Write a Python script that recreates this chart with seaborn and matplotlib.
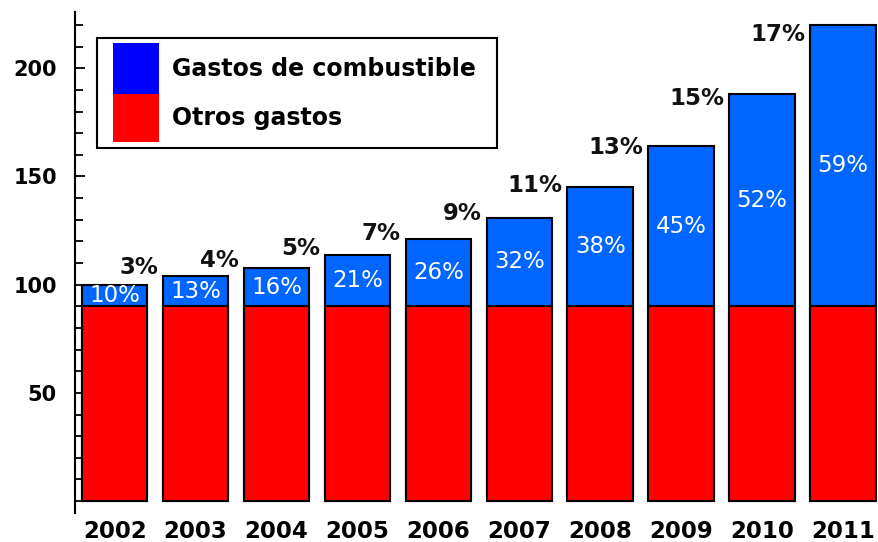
import numpy as np
import pandas as pd
import matplotlib
matplotlib.use('Agg')
import matplotlib.pyplot as plt
from matplotlib.patches import Rectangle
import seaborn as sns

# %%
years = ['2002', '2003', '2004', '2005', '2006', '2007', '2008', '2009', '2010', '2011']
total = [100, 104, 107.5, 113.5, 121, 131, 145, 164, 188, 220]
otros = [90, 90, 90, 90, 90, 90, 90, 90, 90, 90]
share_labels = ['10%', '13%', '16%', '21%', '26%', '32%', '38%', '45%', '52%', '59%']
growth_labels = ['3%', '4%', '5%', '7%', '9%', '11%', '13%', '15%', '17%']

df = pd.DataFrame({'year': years, 'total': total, 'otros': otros})

# %%
sns.set_style('white')
plt.rcParams['font.family'] = ['DejaVu Sans']
plt.rcParams['text.color'] = 'black'
plt.rcParams['xtick.color'] = 'black'
plt.rcParams['ytick.color'] = 'black'

W, H = 879, 542
fig = plt.figure(figsize=(W / 100, H / 100), dpi=100)
ax = fig.add_axes([75 / W, (H - 513) / H, 802 / W, 501 / H])

sns.barplot(data=df, x='year', y='total', color='#0066ff', saturation=1,
            edgecolor='black', linewidth=1.5, width=0.81, ax=ax)
sns.barplot(data=df, x='year', y='otros', color='#ff0000', saturation=1,
            edgecolor='black', linewidth=1.5, width=0.81, ax=ax)

ax.set_xlim(-0.49, 9.42)
ax.set_ylim(-5.5, 226)
ax.set_xlabel('')
ax.set_ylabel('')

# share of fuel, centred in the blue part
for i, (t, o) in enumerate(zip(total, otros)):
    ax.text(i, (t + o) / 2, share_labels[i], ha='center', va='center',
            color='white', fontsize=16.5)

# growth to the next year, just left of the next bar
for i, lab in enumerate(growth_labels):
    t = total[i + 1]
    ax.text(i + 1 - 0.405 - 0.06, 0.93 * t + 11, lab, ha='right', va='center',
            color='#111111', fontsize=16.5, fontweight='bold')

ax.set_yticks([50, 100, 150, 200])
ax.set_yticks(np.arange(0, 221, 10), minor=True)
ax.tick_params(axis='y', which='major', direction='in', length=7, width=1.3,
               pad=13, labelsize=15, left=True)
ax.tick_params(axis='y', which='minor', direction='in', length=6, width=1.3, left=True)
for lab in ax.get_yticklabels():
    lab.set_fontweight('bold')
ax.tick_params(axis='x', length=0, pad=5, labelsize=16.5)
for lab in ax.get_xticklabels():
    lab.set_fontweight('bold')

for s in ['top', 'right', 'bottom']:
    ax.spines[s].set_visible(False)
ax.spines['left'].set_linewidth(1.5)
ax.spines['left'].set_color('black')
ax.grid(False)

# legend drawn by hand
def fx(px):
    return px / W

def fy(py):
    return 1 - py / H

fig.add_artist(Rectangle((fx(97), fy(148)), fx(400), 110 / H, transform=fig.transFigure,
                         facecolor='white', edgecolor='black', linewidth=1.5))
fig.add_artist(Rectangle((fx(113), fy(94)), fx(46), 51 / H, transform=fig.transFigure,
                         facecolor='#0000ff', edgecolor='none'))
fig.add_artist(Rectangle((fx(113), fy(142)), fx(46), 48 / H, transform=fig.transFigure,
                         facecolor='#ff0000', edgecolor='none'))
fig.text(fx(172), fy(69), 'Gastos de combustible', ha='left', va='center',
         fontsize=17, fontweight='bold')
fig.text(fx(172), fy(118), 'Otros gastos', ha='left', va='center',
         fontsize=17, fontweight='bold')

fig.savefig('out.png', dpi=100)
